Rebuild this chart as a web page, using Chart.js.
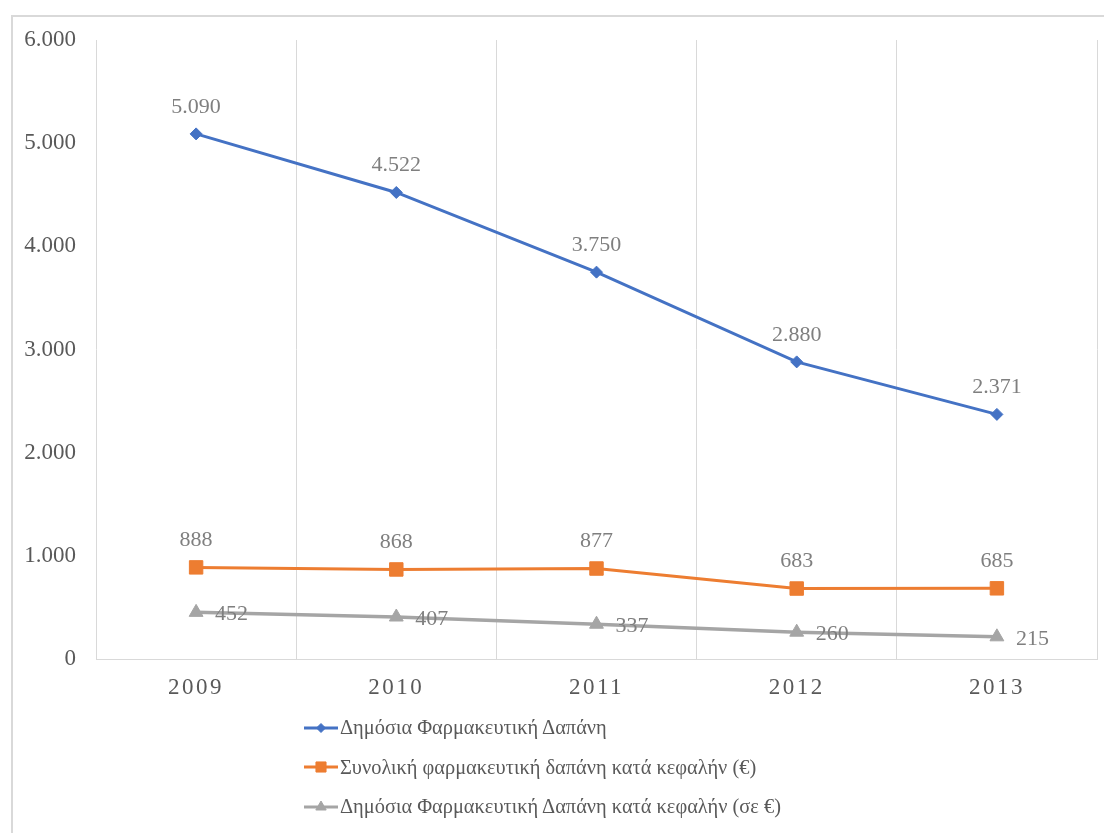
<!DOCTYPE html>
<html>
<head>
<meta charset="utf-8">
<script src="https://cdn.jsdelivr.net/npm/chart.js@4.4.0/dist/chart.umd.min.js"></script>
<style>
  html, body { margin: 0; padding: 0; background: #fff; }
  body { width: 1104px; height: 833px; overflow: hidden; position: relative; font-family: "Liberation Serif", "Times New Roman", serif; }
  .frame { position: absolute; left: 11px; top: 15px; width: 1200px; height: 900px; border: 2px solid #d9d9d9; box-sizing: border-box; }
  .plot { position: absolute; left: 0; top: 0; width: 1104px; height: 705px; }
  #legend { position: absolute; left: 304px; top: 708px; margin: 0; padding: 0; list-style: none; }
  #legend li { display: flex; align-items: center; height: 39.5px; color: #595959; font-size: 20.4px; white-space: nowrap; }
  #legend canvas { margin-right: 2px; }
</style>
</head>
<body>
<div class="frame"></div>
<div class="plot"><canvas id="graficoDapani"></canvas></div>
<ul id="legend"></ul>

<script>
// =========================
// DADOS
// =========================

const anos = ['2009', '2010', '2011', '2012', '2013'];
const dapaniDimosia = [5090, 4522, 3750, 2880, 2371];
const synolikiKefali = [888, 868, 877, 683, 685];
const dimosiaKefali = [452, 407, 337, 260, 215];
const eixoY = { min: 0, max: 6000, passo: 1000 };

const fonte = '"Liberation Serif", "Times New Roman", serif';

// 5090 -> "5.090"
function formatar(v) {
    return String(v).replace(/\B(?=(\d{3})+(?!\d))/g, '.');
}

// rótulos de valor junto aos pontos
const rotulosValor = {
    id: 'rotulosValor',
    afterDatasetsDraw(chart) {
        const ctx = chart.ctx;
        ctx.save();
        ctx.font = '22px ' + fonte;
        ctx.fillStyle = '#7f7f7f';
        ctx.textBaseline = 'middle';
        chart.data.datasets.forEach((ds, i) => {
            chart.getDatasetMeta(i).data.forEach((pt, j) => {
                const texto = formatar(ds.data[j]);
                if (ds.rotulo === 'direita') {
                    ctx.textAlign = 'left';
                    ctx.fillText(texto, pt.x + 19, pt.y + 2);
                } else {
                    ctx.textAlign = 'center';
                    ctx.fillText(texto, pt.x, pt.y - 27);
                }
            });
        });
        ctx.restore();
    }
};

// anos do eixo x com letras espaçadas
const anosEspacados = {
    id: 'anosEspacados',
    beforeDraw(chart) {
        const sc = chart.scales.x;
        if (sc._espacado) return;
        const original = sc.drawLabels;
        sc.drawLabels = function (area) {
            this.ctx.save();
            this.ctx.letterSpacing = '2.5px';
            original.call(this, area);
            this.ctx.restore();
        };
        sc._espacado = true;
    }
};

// =========================
// GRÁFICO
// =========================

const canvas = document.getElementById('graficoDapani');

const grafico = new Chart(canvas.getContext('2d'), {
    type: 'line',
    data: {
        labels: anos,
        datasets: [
            {
                label: 'Δημόσια Φαρμακευτική Δαπάνη',
                data: dapaniDimosia,
                borderColor: '#4472C4',
                backgroundColor: '#4472C4',
                borderWidth: 3,
                pointStyle: 'rectRot',
                pointRadius: 6,
                pointBorderWidth: 1,
                rotulo: 'acima'
            },
            {
                label: 'Συνολική φαρμακευτική δαπάνη κατά κεφαλήν (€)',
                data: synolikiKefali,
                borderColor: '#ED7D31',
                backgroundColor: '#ED7D31',
                borderWidth: 3,
                pointStyle: 'rect',
                pointRadius: 9.5,
                pointBorderWidth: 1,
                rotulo: 'acima'
            },
            {
                label: 'Δημόσια Φαρμακευτική Δαπάνη κατά κεφαλήν (σε €)',
                data: dimosiaKefali,
                borderColor: '#A5A5A5',
                backgroundColor: '#A5A5A5',
                borderWidth: 3.5,
                pointStyle: 'triangle',
                pointRadius: 8,
                pointBorderWidth: 1,
                rotulo: 'direita'
            }
        ]
    },
    options: {
        responsive: true,
        maintainAspectRatio: false,
        animation: false,
        layout: {
            autoPadding: false,
            padding: { top: 40, right: 7, left: 0, bottom: 0 }
        },
        scales: {
            x: {
                offset: true,
                grid: {
                    color: '#d9d9d9',
                    offset: true,
                    drawTicks: false
                },
                border: {
                    color: '#d9d9d9'
                },
                ticks: {
                    color: '#595959',
                    font: { family: fonte, size: 23 },
                    padding: 15
                },
                afterFit: (s) => {
                    s.height = 46;
                    s.paddingLeft = 0;
                    s.paddingRight = 0;
                }
            },
            y: {
                min: eixoY.min,
                max: eixoY.max,
                grid: {
                    display: false,
                    drawTicks: false
                },
                border: {
                    display: false
                },
                ticks: {
                    stepSize: eixoY.passo,
                    color: '#595959',
                    font: { family: fonte, size: 23 },
                    padding: 20,
                    callback: (value) => formatar(value)
                },
                afterFit: (s) => { s.width = 96; }
            }
        },
        plugins: {
            legend: { display: false },
            tooltip: { enabled: false }
        }
    },
    plugins: [rotulosValor, anosEspacados]
});

// =========================
// LEGENDA
// =========================

const legenda = document.getElementById('legend');

grafico.data.datasets.forEach((ds) => {
    const li = document.createElement('li');
    const icone = document.createElement('canvas');
    icone.width = 34;
    icone.height = 20;
    const ic = icone.getContext('2d');
    ic.strokeStyle = ds.borderColor;
    ic.lineWidth = 3;
    ic.beginPath();
    ic.moveTo(0, 10);
    ic.lineTo(34, 10);
    ic.stroke();
    ic.fillStyle = ds.backgroundColor;
    ic.lineWidth = 1;
    Chart.helpers.drawPoint(ic, {
        pointStyle: ds.pointStyle,
        radius: ds.pointRadius * 0.75,
        rotation: 0,
        borderWidth: 1
    }, 17, 10);
    li.appendChild(icone);
    li.appendChild(document.createTextNode(ds.label));
    legenda.appendChild(li);
});
</script>
</body>
</html>
